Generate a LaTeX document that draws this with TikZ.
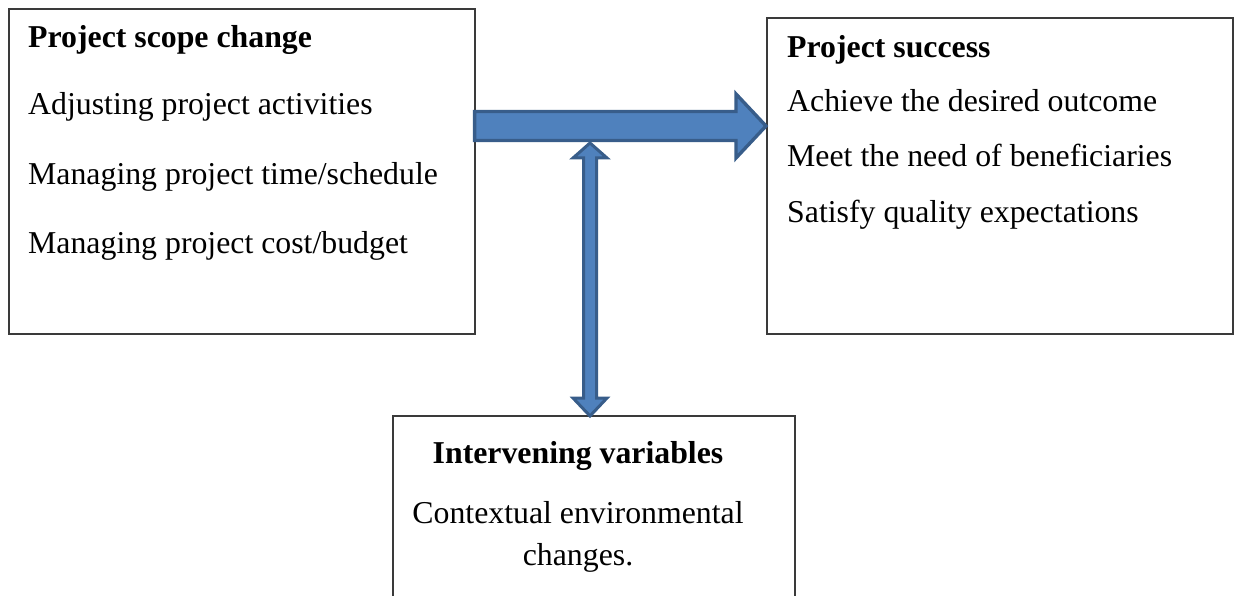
\documentclass[tikz,border=0pt]{standalone}
\usepackage{fontspec}
\setmainfont{Liberation Serif}
\usetikzlibrary{calc}
\definecolor{arrowfill}{HTML}{4F81BD}
\definecolor{arrowline}{HTML}{385D8A}
\definecolor{boxline}{HTML}{3A3A3A}
\begin{document}
\begin{tikzpicture}[x=1pt,y=-1pt,
  box/.style={draw=boxline, line width=1.6pt, rectangle, inner sep=0pt, anchor=north west},
  txt/.style={inner sep=0pt, anchor=base west, font=\fontsize{31.8}{38}\selectfont},
  head/.style={txt, font=\fontsize{31.8}{38}\selectfont\bfseries},
  block/.style={fill=arrowfill, draw=arrowline, line width=3.4pt, line join=miter}]
\useasboundingbox (0,0) rectangle (1238,596);
\clip (0,0) rectangle (1238,596);

% boxes
\node[box, minimum width=466pt, minimum height=325pt] (scope) at (8,8) {};
\node[box, minimum width=466pt, minimum height=316pt] (success) at (766,17) {};
\node[box, minimum width=402pt, minimum height=240pt] (interv) at (392,415) {};

% left box text
\node[head] (scopeT) at (28,48) {Project scope change};
\node[txt] (scope1) at (28,115) {Adjusting project activities};
\node[txt] (scope2) at (28,185) {Managing project time/schedule};
\node[txt] (scope3) at (28,253) {Managing project cost/budget};

% right box text
\node[head] (successT) at (787,58) {Project success};
\node[txt] (success1) at (787,112) {Achieve the desired outcome};
\node[txt] (success2) at (787,167) {Meet the need of beneficiaries};
\node[txt] (success3) at (787,222) {Satisfy quality expectations};

% bottom box text
\node[head, anchor=base] (intervT) at (578,463) {Intervening variables};
\node[txt, anchor=base] (interv1) at (578,523) {Contextual environmental};
\node[txt, anchor=base] (interv2) at (578,565) {changes.};

% block arrow from scope to success
\coordinate (hA) at ($(scope.east |- 0,126)+(-1,0)$);
\coordinate (hB) at ($(success.west |- 0,126)+(0,0)$);
\draw[block] ($(hA)+(0,-14.5)$) -- ($(hB)+(-30,-14.5)$) -- ($(hB)+(-30,-32)$) -- (hB)
  -- ($(hB)+(-30,32)$) -- ($(hB)+(-30,14.5)$) -- ($(hA)+(0,14.5)$) -- cycle;

% double block arrow between the main arrow and the bottom box
\coordinate (vA) at (590,143);
\coordinate (vB) at ($(interv.north west -| vA)+(0,1)$);
\draw[block, line width=3pt] (vA) -- ($(vA)+(17,15)$) -- ($(vA)+(6.5,15)$) -- ($(vB)+(6.5,-18)$)
  -- ($(vB)+(17,-18)$) -- (vB) -- ($(vB)+(-17,-18)$) -- ($(vB)+(-6.5,-18)$)
  -- ($(vA)+(-6.5,15)$) -- ($(vA)+(-17,15)$) -- cycle;
\end{tikzpicture}
\end{document}
